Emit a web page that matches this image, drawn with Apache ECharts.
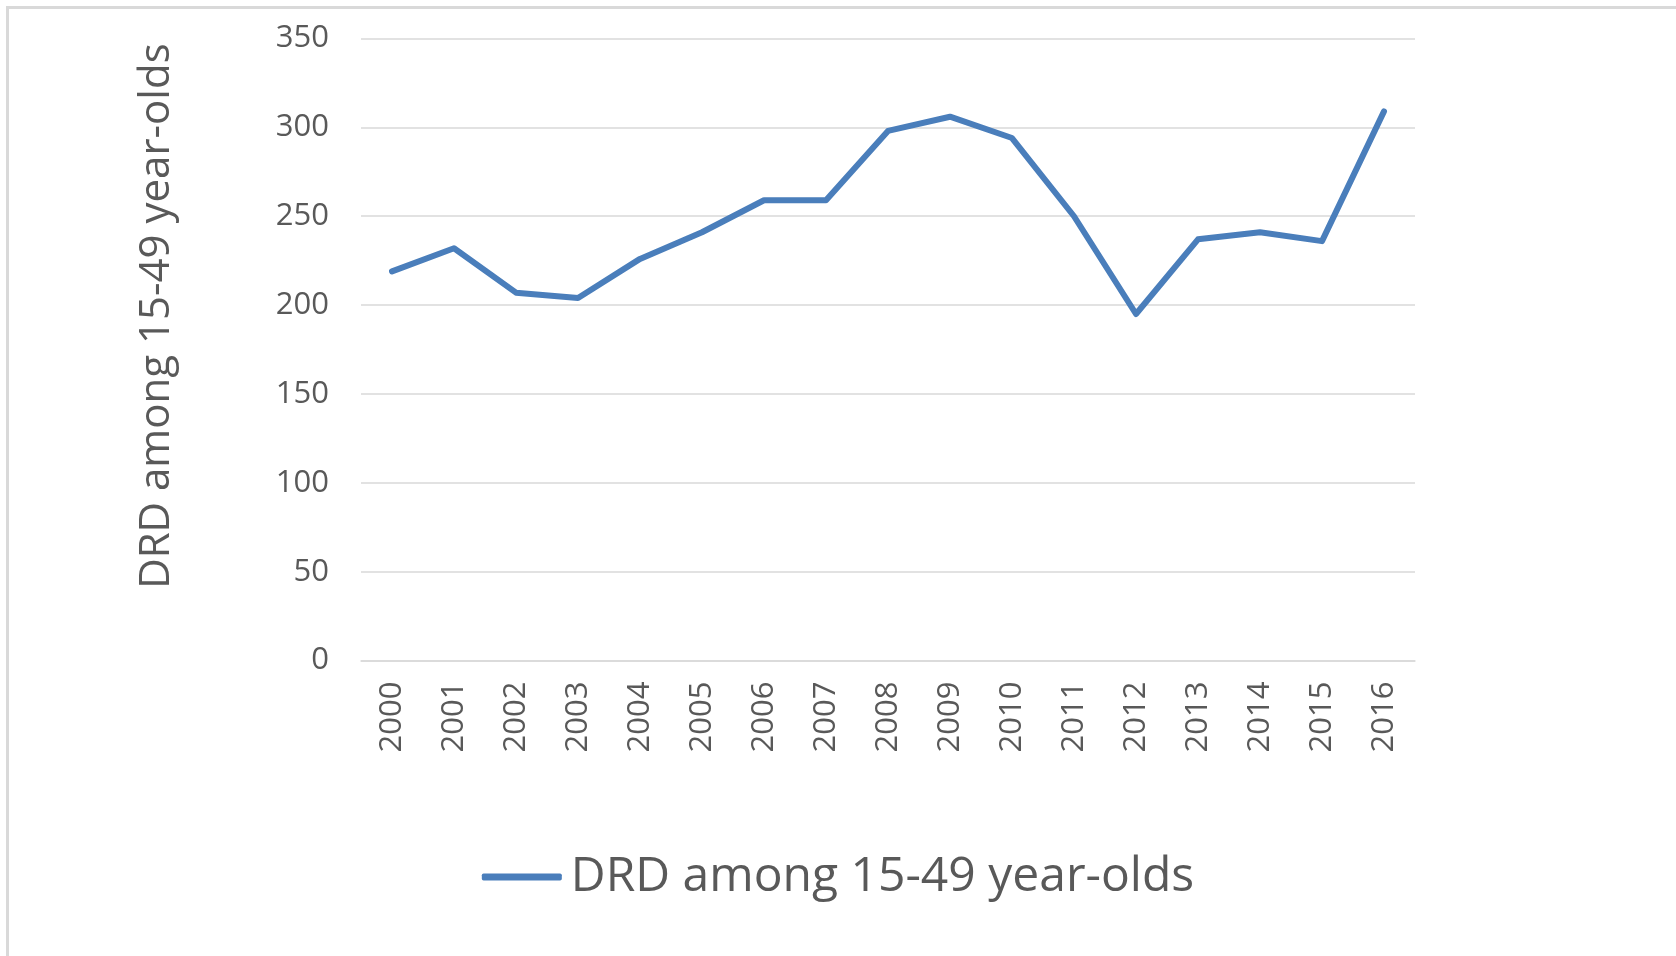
<!DOCTYPE html>
<html>
<head>
<meta charset="utf-8">
<title>DRD among 15-49 year-olds</title>
<script src="https://cdn.jsdelivr.net/npm/echarts@6/dist/echarts.min.js"></script>
<style>
	html,body{margin:0;padding:0;background:#fff;}
	#frame{position:absolute;left:6px;top:6px;width:1670px;height:950px;border-top:3px solid #d9d9d9;border-left:3px solid #d9d9d9;}
	#main{position:absolute;left:0;top:0;width:1676px;height:956px;}
</style>
</head>
<body>
<div id="frame"></div>
<div id="main"></div>
<script>
// data
var years = ['2000','2001','2002','2003','2004','2005','2006','2007','2008','2009','2010','2011','2012','2013','2014','2015','2016'];
var drd = [219, 232, 207, 204, 226, 241, 259, 259, 298, 306, 294, 250, 195, 237, 241, 236, 309];
var seriesName = 'DRD among 15-49 year-olds';
var yTicks = [0, 50, 100, 150, 200, 250, 300, 350];

var textColor = '#595959';
var gridColor = '#d9d9d9';
var lineColor = '#4a7ebb';
var font = 'Open Sans';

function chart(){
	var myChart = echarts.init(document.getElementById('main'), null, {renderer:'canvas'});
	var option = {
		animation: false,
		grid: {
			left: 361,
			right: 261,
			top: 38.5,
			bottom: 295.4,
			containLabel: false,
			outerBoundsMode: 'none'
		},
		legend: {
			data: [seriesName],
			left: 'center',
			top: 848,
			icon: 'roundRect',
			itemWidth: 80,
			itemHeight: 7,
			textStyle: {
				fontFamily: font,
				fontSize: 48,
				color: textColor,
				padding: [0, 0, 0, 4]
			}
		},
		xAxis: {
			type: 'category',
			data: years,
			boundaryGap: true,
			axisLine: {show: true, lineStyle: {color: gridColor, width: 1.5}},
			axisTick: {show: false},
			axisLabel: {
				rotate: 90,
				margin: 21,
				fontFamily: font,
				fontSize: 31,
				color: textColor
			}
		},
		yAxis: {
			type: 'value',
			min: yTicks[0],
			max: yTicks[yTicks.length - 1],
			interval: 50,
			name: seriesName,
			nameLocation: 'middle',
			nameGap: 183,
			nameTextStyle: {
				fontFamily: font,
				fontSize: 42,
				color: textColor,
				padding: [0, 0, 0, 67]
			},
			axisLine: {show: false},
			axisTick: {show: false},
			splitLine: {lineStyle: {color: gridColor, width: 1.5}},
			axisLabel: {
				margin: 32,
				fontFamily: font,
				fontSize: 31,
				color: textColor
			}
		},
		series: [
			{
				name: seriesName,
				type: 'line',
				data: drd,
				symbol: 'none',
				color: lineColor,
				lineStyle: {width: 6, color: lineColor, cap: 'round', join: 'round'}
			}
		]
	};
	myChart.setOption(option);
}
chart();
</script>
</body>
</html>
